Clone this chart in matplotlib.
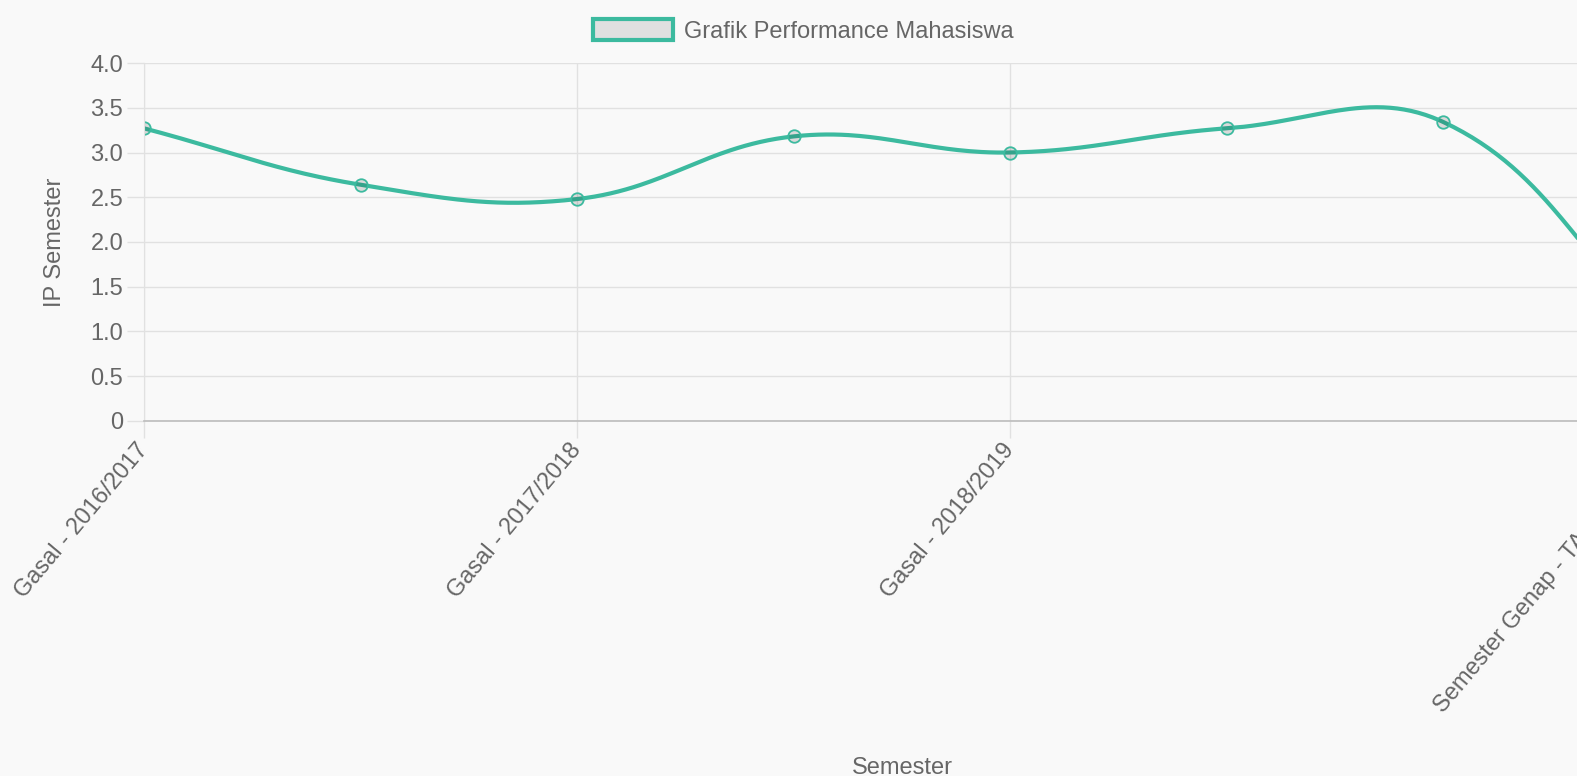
import matplotlib
matplotlib.use("Agg")
import matplotlib.pyplot as plt
import numpy as np
from matplotlib.patches import Patch

plt.rcParams['font.family'] = ['Liberation Sans', 'DejaVu Sans']

# semester labels and IP values
semesters = ["Gasal - 2016/2017", "Genap - 2016/2017", "Gasal - 2017/2018", "Genap - 2017/2018",
             "Gasal - 2018/2019", "Genap - 2018/2019", "Gasal - 2019/2020",
             "Semester Genap - TA 2019/2020"]
ip_values = [3.27, 2.64, 2.48, 3.18, 3.00, 3.27, 3.34, 1.00]
shown_ticks = [0, 2, 4, 7]
y_ticks = [0, 0.5, 1.0, 1.5, 2.0, 2.5, 3.0, 3.5, 4.0]
y_tick_labels = ["0", "0.5", "1.0", "1.5", "2.0", "2.5", "3.0", "3.5", "4.0"]

TEAL = "#3cba9f"
TEXT = "#666666"
GRID = "#e1e1e1"
ZERO = "#bcbcbc"
BG = "#f9f9f9"
W, H = 1577, 776


def spline(ax, xs, ys, tension=0.4, steps=60):
    # cubic bezier through points, control points like chart.js
    pts = ax.transData.transform(np.column_stack([xs, ys]))
    bb = ax.bbox
    n = len(pts)
    prev_cp, next_cp = [], []
    for i in range(n):
        p0 = pts[max(i - 1, 0)]
        p1 = pts[i]
        p2 = pts[min(i + 1, n - 1)]
        d01 = np.hypot(*(p1 - p0))
        d12 = np.hypot(*(p2 - p1))
        tot = d01 + d12
        s01 = d01 / tot if tot else 0
        s12 = d12 / tot if tot else 0
        a = p1 - tension * s01 * (p2 - p0)
        b = p1 + tension * s12 * (p2 - p0)
        for c in (a, b):
            c[0] = min(max(c[0], bb.x0), bb.x1)
            c[1] = min(max(c[1], bb.y0), bb.y1)
        prev_cp.append(a)
        next_cp.append(b)
    t = np.linspace(0, 1, steps)[:, None]
    out = []
    for i in range(n - 1):
        P0, P1, P2, P3 = pts[i], next_cp[i], prev_cp[i + 1], pts[i + 1]
        seg = ((1 - t) ** 3) * P0 + 3 * ((1 - t) ** 2) * t * P1 + 3 * (1 - t) * t ** 2 * P2 + t ** 3 * P3
        out.append(seg)
    out = np.vstack(out)
    return ax.transData.inverted().transform(out)


fig = plt.figure(figsize=(W / 100, H / 100), dpi=100)
fig.patch.set_facecolor(BG)

left, right, top, bottom = 144, 1660, 63, 421
ax = fig.add_axes([left / W, 1 - bottom / H, (right - left) / W, (bottom - top) / H])
ax.set_facecolor(BG)
x = np.arange(len(semesters))
ax.set_xlim(0, len(semesters) - 1)
ax.set_ylim(0, 4)

for s in ("top", "right"):
    ax.spines[s].set_visible(False)
ax.spines["left"].set_color(GRID)
ax.spines["bottom"].set_color(ZERO)
ax.spines["bottom"].set_linewidth(1.2)

ax.set_yticks(y_ticks)
ax.set_yticklabels(y_tick_labels)
ax.set_xticks(shown_ticks)
ax.set_xticklabels([semesters[i] for i in shown_ticks], rotation=50, ha="right", va="center",
                   rotation_mode="anchor")
ax.tick_params(axis="both", colors=GRID, labelcolor=TEXT, labelsize=17, length=12, width=1)
ax.tick_params(axis="y", pad=3)
ax.tick_params(axis="x", pad=6)
ax.grid(True, color=GRID, linewidth=1)
ax.set_axisbelow(True)

curve = spline(ax, x, ip_values)
ax.plot(curve[:, 0], curve[:, 1], color=TEAL, linewidth=3.0, solid_capstyle="round")
ax.plot(x, ip_values, linestyle="none", marker="o", markersize=9,
        markerfacecolor=(0, 0, 0, 0.12), markeredgecolor=TEAL, markeredgewidth=1.3)

ax.set_ylabel("IP Semester", color=TEXT, fontsize=17)
ax.yaxis.set_label_coords((66 - left) / (right - left), 0.5)
ax.set_xlabel("Semester", color=TEXT, fontsize=17, va="top")
ax.xaxis.set_label_coords(0.5, (bottom - 757) / (bottom - top))

handle = Patch(facecolor="#e0e0e0", edgecolor=TEAL, linewidth=3)
fig.legend(handles=[handle], labels=["Grafik Performance Mahasiswa"], loc="upper left",
           bbox_to_anchor=(593 / W, 1 - 19 / H), frameon=False, fontsize=17,
           labelcolor=TEXT, borderpad=0, borderaxespad=0, handlelength=3.4,
           handleheight=1.0, handletextpad=0.45)

fig.savefig("out.png", dpi=100, facecolor=BG)
